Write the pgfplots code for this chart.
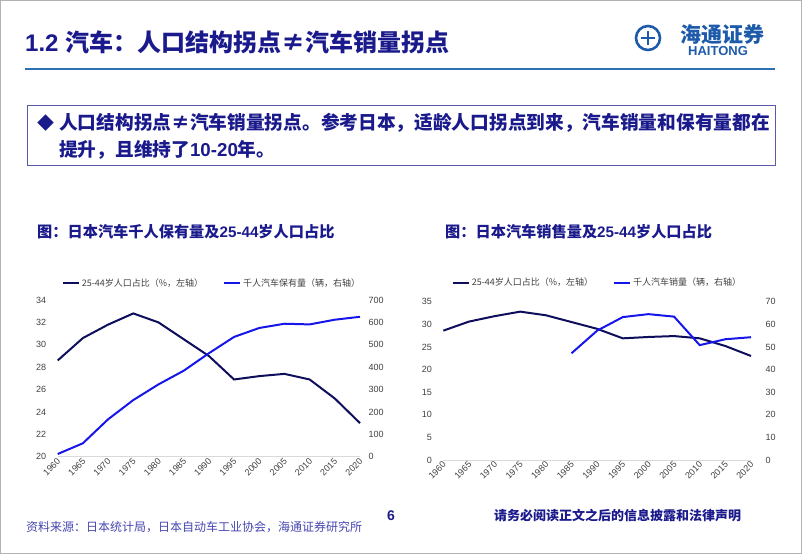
\documentclass[border=0pt]{standalone}
\usepackage{fontspec}
\setmainfont{Liberation Sans}
\newfontfamily\cjk{Noto Sans CJK SC}
\usepackage{pgfplots}
\pgfplotsset{compat=1.18}
\usepackage{pgfplotstable}

\definecolor{navy}{RGB}{26,26,140}
\definecolor{darkline}{RGB}{14,14,92}
\definecolor{blueline}{RGB}{22,22,235}
\definecolor{rulecol}{RGB}{46,112,180}
\definecolor{boxline}{RGB}{90,90,170}
\definecolor{ticktext}{RGB}{64,64,64}
\definecolor{srctext}{RGB}{70,70,175}
\definecolor{logoblue}{RGB}{30,90,170}

% share of population aged 25-44 (%)
\pgfplotstableread{
year share
1960 28.6
1965 30.6
1970 31.8
1975 32.8
1980 32.0
1985 30.5
1990 29.0
1995 26.9
2000 27.2
2005 27.4
2010 26.9
2015 25.2
2020 23.0
}\share

% cars per 1000 people
\pgfplotstableread{
year stock
1960 12
1965 60
1970 167
1975 253
1980 323
1985 384
1990 462
1995 535
2000 575
2005 594
2010 591
2015 612
2020 625
}\stock

% car sales per 1000 people
\pgfplotstableread{
year sales
1985 47.2
1990 57.2
1995 63.2
2000 64.5
2005 63.4
2010 50.8
2015 53.4
2020 54.3
}\sales

\pgfplotsset{
  slide/.style={
    scale only axis, enlargelimits=false, clip=false,
    xmin=1960, xmax=2020, xtick={1960,1965,...,2020},
    major tick length=0,
    tick label style={font=\fontsize{9}{10}\selectfont, text=ticktext},
    /pgf/number format/assume math mode=true,
    /pgf/number format/1000 sep={},
  },
  lefty/.style={
    axis x line*=bottom, axis y line*=left,
    x axis line style={draw=gray!30, line width=0.8pt},
    y axis line style={draw=none},
    xticklabel style={rotate=45, anchor=east, xshift=2pt, yshift=-3pt},
  },
  righty/.style={
    axis x line=none, axis y line*=right,
    y axis line style={draw=none},
    legend style={draw=none, fill=none, legend columns=2, inner sep=0pt,
      font=\fontsize{9}{10}\selectfont, text=ticktext,
      /tikz/every even column/.append style={column sep=18pt}},
    legend image code/.code={\draw[#1] (0pt,0pt) -- (16pt,0pt);},
  },
}

\begin{document}
\begin{tikzpicture}
\path[use as bounding box] (0,0) rectangle (802pt,554pt);
\draw[gray!60, line width=1pt] (0.5pt,0.5pt) rectangle (801.5pt,553.5pt);

% header
\node[anchor=west, inner sep=0pt, text=navy, font=\fontsize{24}{28}\selectfont\bfseries]
  at (25pt,512pt) {1.2 {\cjk 汽车：人口结构拐点≠汽车销量拐点}};
\draw[rulecol, line width=2.5pt] (25pt,485pt) -- (775pt,485pt);

% logo
\draw[logoblue, line width=2.6pt] (648pt,516pt) circle (12pt);
\draw[logoblue, line width=1.8pt] (641pt,516pt) -- (655pt,516pt) (648pt,509pt) -- (648pt,523pt);
\node[anchor=west, inner sep=0pt, text=logoblue, font=\fontsize{21}{24}\selectfont\bfseries\cjk]
  at (680pt,520pt) {海通证券};
\node[anchor=west, inner sep=0pt, text=logoblue, font=\fontsize{13}{15}\selectfont\bfseries]
  at (688pt,503pt) {HAITONG};

% summary box
\draw[boxline, line width=0.8pt] (27pt,449pt) rectangle (775pt,389pt);
\node[anchor=west, inner sep=0pt, text=navy, font=\fontsize{17}{20}\selectfont\cjk]
  at (37pt,431pt) {◆};
\node[anchor=west, inner sep=0pt, text=navy, font=\fontsize{18.7}{22}\selectfont\bfseries\cjk]
  at (59pt,431pt) {人口结构拐点≠汽车销量拐点。参考日本，适龄人口拐点到来，汽车销量和保有量都在};
\node[anchor=west, inner sep=0pt, text=navy, font=\fontsize{18.7}{22}\selectfont\bfseries]
  at (59pt,404pt) {{\cjk 提升，且维持了}10-20{\cjk 年。}};

% chart titles
\node[anchor=west, inner sep=0pt, text=navy, font=\fontsize{15.2}{18}\selectfont\bfseries]
  at (37pt,322pt) {{\cjk 图：日本汽车千人保有量及}25-44{\cjk 岁人口占比}};
\node[anchor=west, inner sep=0pt, text=navy, font=\fontsize{15.2}{18}\selectfont\bfseries]
  at (445pt,322pt) {{\cjk 图：日本汽车销售量及}25-44{\cjk 岁人口占比}};

% left chart
\begin{axis}[slide, lefty, at={(57.7pt,97.3pt)}, anchor=south west,
  width=302.3pt, height=156.7pt,
  ymin=20, ymax=34, ytick={20,22,...,34},
  yticklabel style={xshift=-8pt}]
\addplot[darkline, line width=2pt] table[x=year, y=share] {\share};
\end{axis}
\begin{axis}[slide, righty, at={(57.7pt,97.3pt)}, anchor=south west,
  width=302.3pt, height=156.7pt,
  ymin=0, ymax=700, ytick={0,100,...,700},
  yticklabel style={xshift=5pt},
  legend style={at={(0.013,1.108)}, anchor=west}]
\addlegendimage{darkline, line width=2pt}
\addlegendentry{{\cjk 25-44岁人口占比（\%，左轴）}}
\addplot[blueline, line width=2pt] table[x=year, y=stock] {\stock};
\addlegendentry{{\cjk 千人汽车保有量（辆，右轴）}}
\end{axis}

% right chart
\begin{axis}[slide, lefty, at={(443.3pt,94pt)}, anchor=south west,
  width=307.7pt, height=158.3pt,
  ymin=0, ymax=35, ytick={0,5,...,35},
  yticklabel style={xshift=-8pt}]
\addplot[darkline, line width=2pt] table[x=year, y=share] {\share};
\end{axis}
\begin{axis}[slide, righty, at={(443.3pt,94pt)}, anchor=south west,
  width=307.7pt, height=158.3pt,
  ymin=0, ymax=70, ytick={0,10,...,70},
  yticklabel style={xshift=11pt},
  legend style={at={(0.027,1.12)}, anchor=west}]
\addlegendimage{darkline, line width=2pt}
\addlegendentry{{\cjk 25-44岁人口占比（\%，左轴）}}
\addplot[blueline, line width=2pt] table[x=year, y=sales] {\sales};
\addlegendentry{{\cjk 千人汽车销量（辆，右轴）}}
\end{axis}

% footer
\node[anchor=west, inner sep=0pt, text=srctext, font=\fontsize{12}{14}\selectfont\cjk]
  at (26pt,27pt) {资料来源：日本统计局，日本自动车工业协会，海通证券研究所};
\node[anchor=west, inner sep=0pt, text=navy, font=\fontsize{14}{16}\selectfont\bfseries]
  at (387pt,38pt) {6};
\node[anchor=west, inner sep=0pt, text=navy, font=\fontsize{13}{15}\selectfont\bfseries\cjk]
  at (494pt,38pt) {请务必阅读正文之后的信息披露和法律声明};
\end{tikzpicture}
\end{document}
